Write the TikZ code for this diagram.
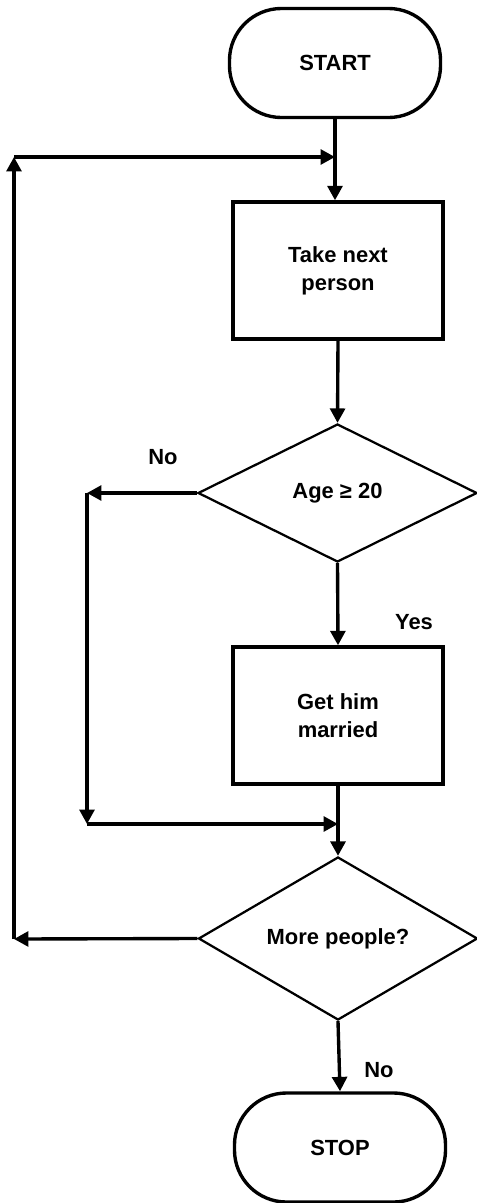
\documentclass[tikz,border=0pt]{standalone}
\usepackage{fontspec}
\setmainfont{Liberation Sans}
\usetikzlibrary{arrows.meta,shapes.geometric,positioning}

\begin{document}
\begin{tikzpicture}[x=.025cm, y=-.025cm, line width=2.4pt,
    every node/.style={font=\bfseries\fontsize{15.6}{19.9}\selectfont, align=center},
    term/.style={draw, rectangle, rounded corners=1.3cm, minimum width=5.275cm, minimum height=2.725cm},
    proc/.style={draw, rectangle, minimum width=5.25cm, minimum height=3.425cm},
    decide/.style={draw, diamond, line width=1.6pt, inner sep=0pt, minimum width=6.975cm, minimum height=3.45cm},
    flow/.style={-{Triangle[length=.36cm, width=.37cm]}}]
    \useasboundingbox (0,0) rectangle (477,1203);

    % boxes
    \node[term] (start) at (335,63) {START};
    \node[proc] (take) at (338,270.5) {Take next\\person};
    \node[decide] (age) at (337.5,493) {Age ≥ 20};
    \node[proc] (marry) at (338,715.5) {Get him\\married};
    \node[decide] (more) at (338,938.5) {More people?};
    \node[term] (stop) at (340,1147.5) {STOP};

    % corners of the loops
    \coordinate (c1) at (14,157);
    \coordinate (c2) at (14,939);
    \coordinate (c3) at (87,493);
    \coordinate (c4) at (87,824);

    % main line
    \draw[flow] (start.south) -- (start.south |- take.north);
    \draw[flow] (take.south) -- (age.north);
    \draw[flow] (age.south) -- (marry.north);
    \draw[flow] (marry.south) -- (more.north);
    \draw[flow] (more.south) -- (stop.north);

    % age no branch
    \draw[flow] (age.west) -- (c3);
    \draw[flow] (c3) -- (c4);
    \draw[flow] (c4) -- (marry.south |- c4);

    % back to next person
    \draw[flow] (more.west) -- (c2);
    \draw[flow] (c2) -- (c1);
    \draw[flow] (c1) -- (start.south |- c1);

    \node (noage) at (163,457) {No};
    \node (yes) at (414,622) {Yes};
    \node (nomore) at (379,1070) {No};
\end{tikzpicture}
\end{document}
